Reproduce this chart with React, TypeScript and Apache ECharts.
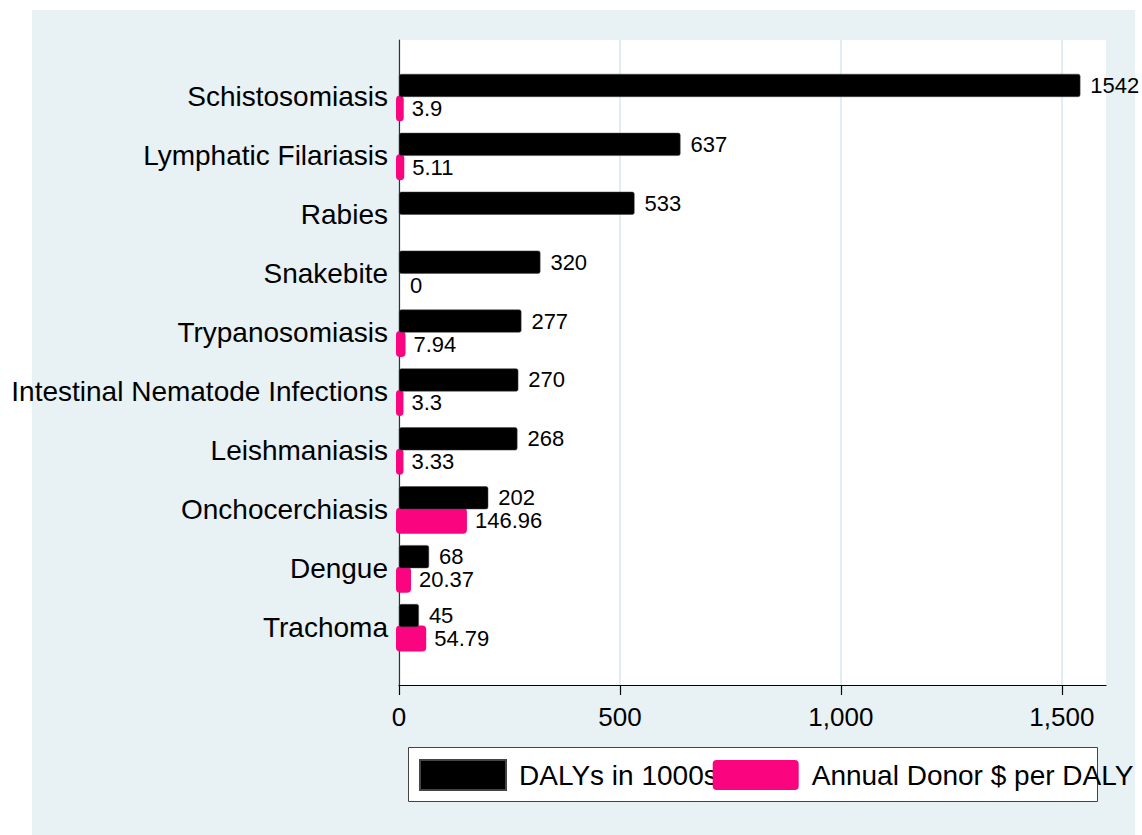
import React, { useEffect, useRef } from "react";
import * as echarts from "echarts";

const categories = [
  "Schistosomiasis",
  "Lymphatic Filariasis",
  "Rabies",
  "Snakebite",
  "Trypanosomiasis",
  "Intestinal Nematode Infections",
  "Leishmaniasis",
  "Onchocerchiasis",
  "Dengue",
  "Trachoma",
];
const dalys = [1542, 637, 533, 320, 277, 270, 268, 202, 68, 45];
const donor: (number | null)[] = [3.9, 5.11, null, 0, 7.94, 3.3, 3.33, 146.96, 20.37, 54.79];
const xTicks = [0, 500, 1000, 1500];
const seriesNames = ["DALYs in 1000s", "Annual Donor $ per DALY"];

const FONT = "'Liberation Sans', Arial, Helvetica, sans-serif";
const PINK = "#fa0480";
const BG = "#e8f1f3";

export default function App() {
  const ref = useRef<HTMLDivElement>(null);
  useEffect(() => {
    if (!ref.current) return;
    const chart = echarts.init(ref.current, null, { renderer: "svg" });
    const option: any = {
      animation: false,
      backgroundColor: "#ffffff",
      textStyle: { fontFamily: FONT },
      graphic: [
        {
          type: "rect",
          z: -10,
          silent: true,
          shape: { x: 32, y: 10, width: 1103, height: 825 },
          style: { fill: BG },
        },
        {
          type: "rect",
          z: 1,
          silent: true,
          shape: { x: 408.5, y: 747.5, width: 689, height: 54 },
          style: { fill: "#ffffff", stroke: "#444444", lineWidth: 1 },
        },
      ],
      grid: [
        {
          left: 399,
          top: 40,
          width: 707,
          height: 645,
          show: true,
          backgroundColor: "#ffffff",
          borderWidth: 0,
        },
        {
          left: 399,
          top: 67.5,
          width: 707,
          height: 589,
          show: false,
        },
      ],
      xAxis: [
        {
          gridIndex: 0,
          type: "value",
          min: 0,
          max: 1600,
          interval: 500,
          axisLine: { show: true, lineStyle: { color: "#000", width: 1.2 } },
          axisTick: {
            show: true,
            length: 10,
            lineStyle: { color: "#000", width: 1.2 },
            customValues: xTicks,
          },
          axisLabel: {
            customValues: xTicks,
            fontSize: 26,
            color: "#000",
            margin: 19,
            fontFamily: FONT,
            formatter: (v: number) => v.toLocaleString("en-US"),
          },
          splitLine: { show: true, lineStyle: { color: "#d9e7ec", width: 1.5 } },
        },
        {
          gridIndex: 1,
          type: "value",
          min: 0,
          max: 1600,
          show: false,
        },
      ],
      yAxis: [
        {
          gridIndex: 0,
          type: "value",
          min: 0,
          max: 1,
          axisLine: { show: true, lineStyle: { color: "#333", width: 1.2 } },
          axisTick: { show: false },
          axisLabel: { show: false },
          splitLine: { show: false },
        },
        {
          gridIndex: 1,
          type: "category",
          inverse: true,
          data: categories,
          axisLine: { show: false },
          axisTick: { show: false },
          axisLabel: {
            fontSize: 28,
            color: "#000",
            margin: 11,
            fontFamily: FONT,
          },
        },
      ],
      legend: {
        left: 419,
        top: 759,
        orient: "horizontal",
        itemWidth: 86,
        itemHeight: 30,
        itemGap: -5,
        padding: 0,
        selectedMode: false,
        z: 5,
        textStyle: {
          fontSize: 28,
          color: "#000",
          fontFamily: FONT,
          padding: [0, 0, 0, 8],
        },
        data: [
          { name: seriesNames[0], icon: "rect", itemStyle: { color: "#000" } },
          {
            name: seriesNames[1],
            icon: "path://M4,0 H82 Q86,0 86,4 V26 Q86,30 82,30 H4 Q0,30 0,26 V4 Q0,0 4,0 Z",
            itemStyle: { color: PINK },
          },
        ],
      },
      series: [
        {
          name: seriesNames[0],
          type: "bar",
          xAxisIndex: 1,
          yAxisIndex: 1,
          data: dalys,
          barWidth: 23,
          barGap: "0%",
          z: 3,
          itemStyle: { color: "#000", borderRadius: 2, borderColor: "#444", borderWidth: 0.5 },
          label: {
            show: true,
            position: "right",
            distance: 10,
            fontSize: 22,
            color: "#000",
            fontFamily: FONT,
          },
        },
        {
          name: seriesNames[1],
          type: "bar",
          xAxisIndex: 1,
          yAxisIndex: 1,
          data: donor.map(() => null),
          barWidth: 23,
          itemStyle: { color: PINK },
          silent: true,
        },
        {
          name: seriesNames[1],
          type: "custom",
          xAxisIndex: 1,
          yAxisIndex: 1,
          z: 2,
          clip: false,
          itemStyle: { color: PINK },
          encode: { x: 0, y: 1 },
          data: donor.map((v, i) => [v === null ? "-" : v, categories[i]]),
          renderItem: (params: any, api: any) => {
            const v = api.value(0);
            if (v === null || v === undefined || isNaN(v)) return null;
            const cat = api.value(1);
            const p0 = api.coord([0, cat]);
            const p1 = api.coord([v, cat]);
            const band = api.size([0, 1])[1];
            const cy = p0[1] + band * 0.195;
            const children: any[] = [];
            if (v > 0) {
              children.push({
                type: "rect",
                shape: { x: p0[0] - 3, y: cy - 13, width: p1[0] - p0[0] + 6, height: 26, r: 4 },
                style: { fill: PINK },
              });
            }
            children.push({
              type: "text",
              x: p1[0] + 11,
              y: cy,
              style: {
                text: String(v),
                fill: "#000",
                fontSize: 22,
                fontFamily: FONT,
                verticalAlign: "middle",
                align: "left",
              },
            });
            return { type: "group", children };
          },
        },
      ],
    };
    chart.setOption(option);
    return () => chart.dispose();
  }, []);
  return (
    <div
      ref={ref}
      style={{ position: "fixed", left: 0, top: 0, width: 1142, height: 835 }}
    />
  );
}
